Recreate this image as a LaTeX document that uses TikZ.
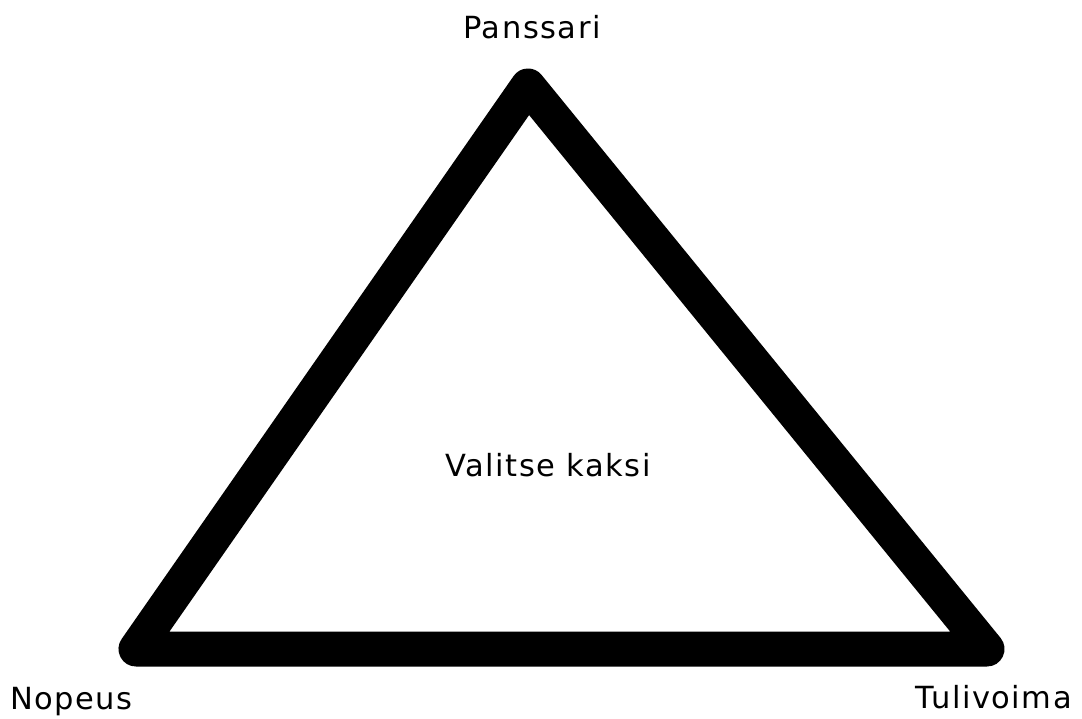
\documentclass[tikz,border=0pt]{standalone}
\usepackage{fontspec}
\setmainfont{DejaVu Sans}[LetterSpace=5]
\begin{document}
\begin{tikzpicture}[x=1pt,y=-1pt,
  lbl/.style={inner sep=0pt,font=\fontsize{30.5}{36}\selectfont},
  edge/.style={line width=35pt,line join=round,line cap=round}]
\useasboundingbox (0,0) rectangle (1082,718);
\coordinate (top) at (528,86);
\coordinate (bl) at (136,649);
\coordinate (br) at (987,649);
\draw[edge] (top) -- (br) -- (bl) -- cycle;
\node[lbl,anchor=base] (p) at (532,38) {Panssari};
\node[lbl,anchor=base west] (n) at (10,709) {Nopeus};
\node[lbl,anchor=base east] (t) at (1072,708) {Tulivoima};
\node[lbl,anchor=base] (v) at (548,476) {Valitse kaksi};
\end{tikzpicture}
\end{document}
